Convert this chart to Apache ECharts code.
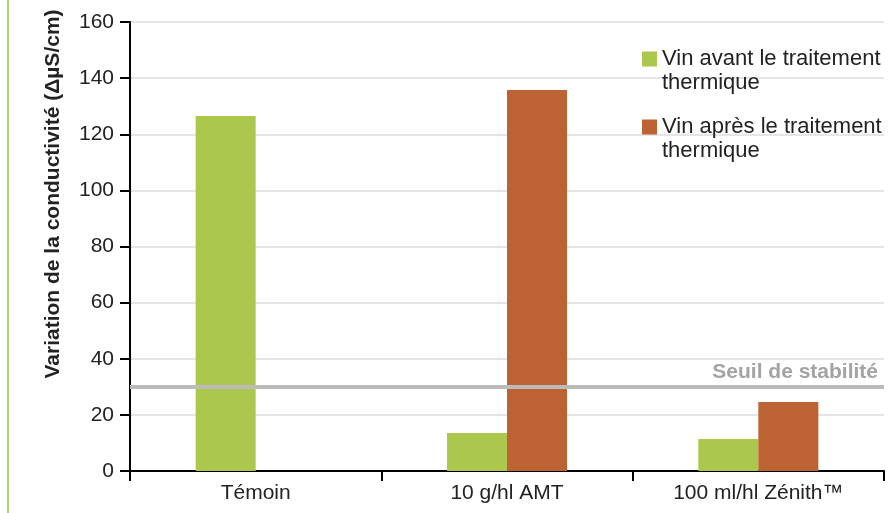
<!DOCTYPE html>
<html><head><meta charset="utf-8">
<script src="https://cdn.jsdelivr.net/npm/echarts@6/dist/echarts.min.js"></script>
<style>html,body{margin:0;padding:0;background:#fff}#c{width:890px;height:513px}</style>
</head><body><div id="c"></div>
<script>
const categories = ['Témoin', '10 g/hl AMT', '100 ml/hl Zénith™'];
const seriesNames = ['Vin avant le traitement\nthermique', 'Vin après le traitement\nthermique'];
const avant = [126.5, 13.5, 11.4];
const apres = [null, 135.8, 24.6];
const seuil = 30;
const seuilLabel = 'Seuil de stabilité';
const yTicks = [0, 20, 40, 60, 80, 100, 120, 140, 160];
const yName = 'Variation de la conductivité (ΔµS/cm)';

const font = '"Liberation Sans", Arial, sans-serif';
const chart = echarts.init(document.getElementById('c'), null, {renderer: 'canvas'});
chart.setOption({
  animation: false,
  textStyle: {fontFamily: font},
  grid: {left: 130, right: 6, top: 22, bottom: 42},
  graphic: [{type: 'line', shape: {x1: 8, y1: 0, x2: 8, y2: 513}, style: {stroke: '#8cc63f', lineWidth: 1.5}}],
  legend: {
    orient: 'vertical', left: 637, top: 18,
    itemWidth: 15, itemHeight: 15, itemGap: -4,
    icon: 'rect',
    formatter: function (n) { return '\n' + n; },
    textStyle: {fontSize: 22, color: '#222', lineHeight: 24, fontFamily: font},
    data: seriesNames
  },
  xAxis: {
    type: 'category', data: categories,
    axisLine: {lineStyle: {color: '#000', width: 2}},
    axisTick: {show: true, length: 10, lineStyle: {color: '#000', width: 2}},
    axisLabel: {fontSize: 21, color: '#222', margin: 12, fontFamily: font}
  },
  yAxis: {
    type: 'value', min: yTicks[0], max: yTicks[yTicks.length - 1], interval: 20,
    name: yName, nameLocation: 'middle', nameGap: 66,
    nameTextStyle: {fontSize: 21, fontWeight: 'bold', color: '#222', padding: [0, 0, 0, 105], fontFamily: font},
    axisLine: {show: true, lineStyle: {color: '#000', width: 2}},
    axisTick: {show: true, length: 10, lineStyle: {color: '#000', width: 2}},
    axisLabel: {fontSize: 21, color: '#222', margin: 16, fontFamily: font},
    splitLine: {lineStyle: {color: '#dcdcdc', width: 1.5}}
  },
  series: [
    {name: seriesNames[0], type: 'bar', data: avant, barWidth: 60, barGap: '0%', itemStyle: {color: '#acc84c'},
     markLine: {silent: true, symbol: 'none', data: [{yAxis: seuil}],
       lineStyle: {color: '#bbbbbb', width: 4, type: 'solid'},
       label: {show: true, position: 'insideEndTop', formatter: seuilLabel, fontSize: 21, fontWeight: 'bold', color: '#a3a3a3', distance: [6, 4], fontFamily: font}}},
    {name: seriesNames[1], type: 'bar', data: apres, barWidth: 60, barGap: '0%', itemStyle: {color: '#bd6232'}}
  ]
});
</script></body></html>
